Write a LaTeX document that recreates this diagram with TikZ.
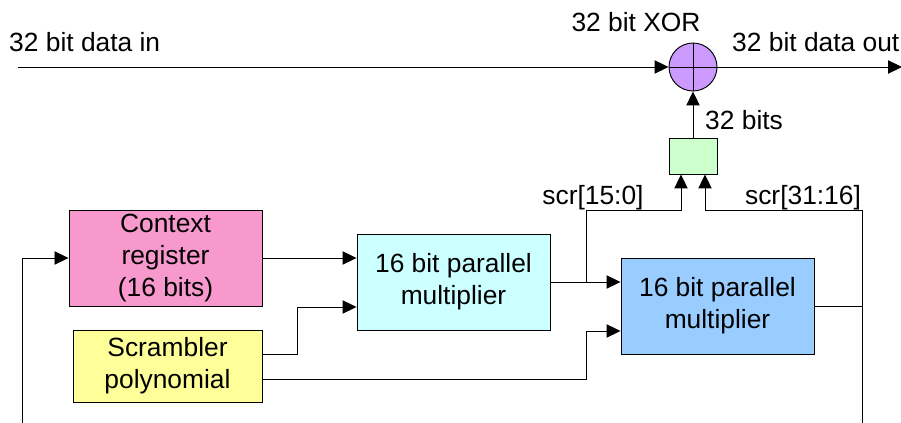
\documentclass[tikz,border=0pt]{standalone}
\usepackage{fontspec}
\setmainfont{Liberation Sans}
\usetikzlibrary{arrows.meta,positioning,calc}
\definecolor{ctxpink}{RGB}{247,153,204}
\definecolor{polyyellow}{RGB}{255,255,153}
\definecolor{multcyan}{RGB}{204,255,255}
\definecolor{multblue}{RGB}{153,204,255}
\definecolor{joingreen}{RGB}{204,255,204}
\definecolor{xorpurple}{RGB}{204,153,255}

\begin{document}
\begin{tikzpicture}[x=0.3mm,y=-0.3mm,
  box/.style={draw,align=center,inner sep=0pt,line width=0.8pt,
              font=\fontsize{22.5}{27}\selectfont},
  ctxbox/.style={box,fill=ctxpink,minimum width=57.9mm,minimum height=28.8mm},
  polybox/.style={box,fill=polyyellow,minimum width=56.7mm,minimum height=21.6mm},
  multbox/.style={box,minimum width=57.9mm,minimum height=28.8mm},
  joinbox/.style={box,fill=joingreen,minimum width=14.4mm,minimum height=10.8mm},
  xorop/.style={draw,circle,fill=xorpurple,minimum size=14.4mm,inner sep=0pt,line width=0.8pt},
  lbl/.style={inner sep=0pt,font=\fontsize{22.5}{27}\selectfont},
  wire/.style={line width=0.8pt},
  arrow/.style={wire,-{Triangle[length=4.2mm,width=4mm]}}
]
\useasboundingbox (0,0) rectangle (901,423);

\node[ctxbox]  (ctx)   at (165.5,258) {Context\\register\\(16 bits)};
\node[polybox] (poly)  at (167.5,366) {Scrambler\\polynomial};
\node[multbox,fill=multcyan] (mulA) at (453.5,282) {16 bit parallel\\multiplier};
\node[multbox,fill=multblue] (mulB) at (717.5,306) {16 bit parallel\\multiplier};
\node[joinbox] (join)  at (693,156) {};
\node[xorop]   (xor)   at (693,67) {};
\draw[wire] (xor.north) -- (xor.south) (xor.west) -- (xor.east);

\coordinate (din)  at (18,67);
\coordinate (dout) at (902,67);
\coordinate (tapA) at (586,282);
\coordinate (tapB) at (862,306);
\coordinate (fbR)  at (862,423);
\coordinate (fbL)  at (22,423);

\node[lbl,anchor=west] (inlbl)  at (9,42)   {32 bit data in};
\node[lbl]             (xorlbl) at (636,22) {32 bit XOR};
\node[lbl,anchor=west] (outlbl) at (732,42) {32 bit data out};
\node[lbl,anchor=west] (bitlbl) at (705,120) {32 bits};
\node[lbl]             (loA)    at (593,198) {scr[15:0]};
\node[lbl]             (hiB)    at (803,198) {scr[31:16]};

\draw[arrow] (din) -- (xor.west);
\draw[arrow] (xor.east) -- (dout);
\draw[arrow] (join.north) -- (xor.south);
\draw[arrow] (ctx.east) -- (ctx.east -| mulA.west);
\draw[arrow] ($(poly.east)+(0,-12)$) -| (297,307) -- (297,307 -| mulA.west);
\draw[arrow] ($(poly.east)+(0,13)$) -| (586,331) -- (586,331 -| mulB.west);
\draw[arrow] (mulA.east) -- (mulA.east -| mulB.west);
\draw[arrow] (tapA) |- (681,210) -- ($(join.south)+(-12,0)$);
\draw[wire]  (mulB.east) -- (tapB);
\draw[arrow] (fbR) |- (705,210) -- ($(join.south)+(12,0)$);
\draw[arrow] (fbL) |- (ctx.west);
\end{tikzpicture}
\end{document}
